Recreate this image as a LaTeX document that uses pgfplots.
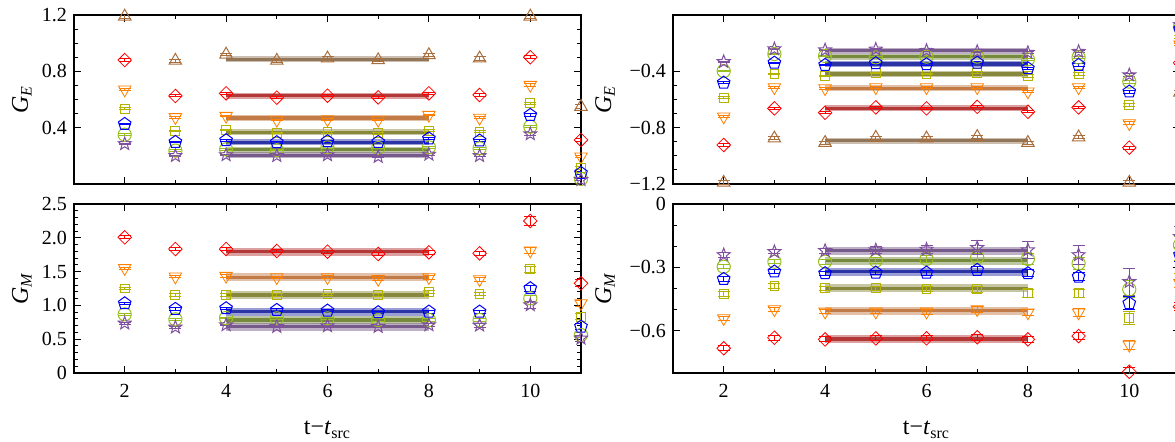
\documentclass[border=0pt]{standalone}
\usepackage{fontspec}
\setmainfont{Liberation Serif}
\usepackage{pgfplots}
\usepackage{pgfplotstable}
\pgfplotsset{compat=1.18}

\definecolor{cTri}{RGB}{170,110,60}
\definecolor{cDia}{RGB}{255,0,0}
\definecolor{cInv}{RGB}{255,128,0}
\definecolor{cSq}{RGB}{180,180,0}
\definecolor{cCi}{RGB}{150,190,30}
\definecolor{cPe}{RGB}{0,0,255}
\definecolor{cSt}{RGB}{128,80,160}
\definecolor{bTri}{RGB}{140,110,80}
\definecolor{bDia}{RGB}{175,45,45}
\definecolor{bInv}{RGB}{190,115,60}
\definecolor{bSq}{RGB}{128,128,50}
\definecolor{bCi}{RGB}{110,130,50}
\definecolor{bPe}{RGB}{30,40,160}
\definecolor{bSt}{RGB}{110,80,130}

% open five-pointed star
\pgfdeclareplotmark{ostar}{%
  \pgfpathmoveto{\pgfqpointpolar{90}{\pgfplotmarksize}}%
  \pgfpathlineto{\pgfqpointpolar{126}{0.42\pgfplotmarksize}}%
  \pgfpathlineto{\pgfqpointpolar{162}{\pgfplotmarksize}}%
  \pgfpathlineto{\pgfqpointpolar{198}{0.42\pgfplotmarksize}}%
  \pgfpathlineto{\pgfqpointpolar{234}{\pgfplotmarksize}}%
  \pgfpathlineto{\pgfqpointpolar{270}{0.42\pgfplotmarksize}}%
  \pgfpathlineto{\pgfqpointpolar{306}{\pgfplotmarksize}}%
  \pgfpathlineto{\pgfqpointpolar{342}{0.42\pgfplotmarksize}}%
  \pgfpathlineto{\pgfqpointpolar{18}{\pgfplotmarksize}}%
  \pgfpathlineto{\pgfqpointpolar{54}{0.42\pgfplotmarksize}}%
  \pgfpathclose\pgfusepathqstroke}

% G_E, positive
\pgfplotstableread{
t tri trie dia diae inv inve sq sqe ci cie pe pee st ste
2  1.19  0.012 0.88  0.008 0.67  0.008 0.535 0.007 0.35  0.006 0.426 0.006 0.285 0.005
3  0.876 0.010 0.625 0.007 0.474 0.006 0.376 0.005 0.237 0.005 0.298 0.005 0.200 0.004
4  0.92  0.010 0.644 0.007 0.483 0.006 0.383 0.005 0.246 0.005 0.310 0.005 0.206 0.004
5  0.876 0.010 0.613 0.007 0.455 0.006 0.364 0.005 0.240 0.005 0.296 0.005 0.200 0.004
6  0.892 0.010 0.627 0.007 0.459 0.006 0.367 0.005 0.260 0.005 0.303 0.005 0.206 0.004
7  0.88  0.010 0.615 0.007 0.455 0.006 0.360 0.005 0.255 0.005 0.298 0.005 0.194 0.004
8  0.916 0.010 0.644 0.007 0.490 0.006 0.378 0.006 0.260 0.006 0.323 0.006 0.210 0.005
9  0.892 0.012 0.632 0.008 0.470 0.007 0.371 0.007 0.253 0.006 0.308 0.006 0.200 0.006
10 1.19  0.015 0.90  0.010 0.703 0.009 0.573 0.008 0.407 0.008 0.490 0.008 0.355 0.008
11 0.549 0.015 0.313 0.010 0.194 0.009 0.114 0.008 0.036 0.008 0.078 0.008 0.030 0.008
}\tabTL

% G_M, positive
\pgfplotstableread{
t dia diae inv inve sq sqe ci cie pe pee st ste
2  2.007 0.020 1.55  0.018 1.25  0.016 0.868 0.014 1.03  0.015 0.735 0.012
3  1.834 0.020 1.425 0.018 1.154 0.016 0.794 0.014 0.947 0.015 0.676 0.012
4  1.834 0.020 1.435 0.018 1.154 0.016 0.814 0.014 0.957 0.015 0.710 0.012
5  1.805 0.020 1.415 0.018 1.154 0.016 0.809 0.014 0.932 0.015 0.685 0.013
6  1.795 0.022 1.415 0.020 1.164 0.018 0.809 0.016 0.922 0.016 0.695 0.015
7  1.760 0.025 1.390 0.022 1.154 0.020 0.784 0.018 0.898 0.018 0.685 0.018
8  1.785 0.028 1.415 0.025 1.203 0.022 0.784 0.020 0.907 0.020 0.710 0.020
9  1.770 0.030 1.386 0.028 1.169 0.025 0.784 0.025 0.907 0.025 0.705 0.025
10 2.249 0.060 1.810 0.040 1.534 0.040 1.105 0.040 1.253 0.045 1.006 0.045
11 1.327 0.050 1.031 0.040 0.833 0.040 0.562 0.040 0.685 0.040 0.513 0.040
}\tabBL

% G_E, negative
\pgfplotstableread{
t tri trie dia diae inv inve sq sqe ci cie pe pee st ste
2  -1.19  0.012 -0.923 0.008 -0.722 0.008 -0.587 0.007 -0.398 0.006 -0.481 0.006 -0.332 0.005
3  -0.876 0.010 -0.663 0.007 -0.514 0.006 -0.419 0.005 -0.277 0.005 -0.339 0.005 -0.241 0.004
4  -0.907 0.010 -0.694 0.007 -0.521 0.006 -0.433 0.005 -0.291 0.005 -0.355 0.005 -0.249 0.004
5  -0.871 0.010 -0.656 0.007 -0.514 0.006 -0.410 0.005 -0.301 0.005 -0.343 0.005 -0.244 0.004
6  -0.876 0.010 -0.663 0.007 -0.514 0.006 -0.419 0.005 -0.296 0.005 -0.350 0.005 -0.253 0.005
7  -0.865 0.010 -0.652 0.007 -0.514 0.006 -0.410 0.006 -0.296 0.006 -0.339 0.006 -0.260 0.006
8  -0.907 0.012 -0.687 0.008 -0.544 0.008 -0.433 0.008 -0.315 0.007 -0.379 0.007 -0.267 0.007
9  -0.868 0.012 -0.656 0.008 -0.514 0.008 -0.419 0.009 -0.301 0.008 -0.355 0.008 -0.260 0.008
10 -1.19  0.015 -0.942 0.010 -0.769 0.010 -0.639 0.010 -0.473 0.010 -0.544 0.010 -0.426 0.010
11 -0.55  0.015 -0.340 0.010 -0.210 0.010 -0.156 0.010 -0.085 0.010 -0.100 0.010 -0.070 0.010
}\tabTR

% G_M, negative
\pgfplotstableread{
t dia diae inv inve sq sqe ci cie pe pee st ste
2  -0.683 0.012 -0.541 0.010 -0.426 0.010 -0.297 0.010 -0.355 0.010 -0.241 0.010
3  -0.633 0.012 -0.499 0.010 -0.388 0.010 -0.273 0.010 -0.320 0.010 -0.226 0.010
4  -0.641 0.012 -0.510 0.010 -0.399 0.010 -0.273 0.012 -0.328 0.010 -0.221 0.012
5  -0.636 0.012 -0.510 0.010 -0.399 0.010 -0.268 0.014 -0.325 0.010 -0.218 0.015
6  -0.636 0.012 -0.510 0.012 -0.402 0.012 -0.260 0.016 -0.325 0.012 -0.215 0.020
7  -0.631 0.014 -0.499 0.014 -0.404 0.014 -0.252 0.020 -0.312 0.014 -0.207 0.033
8  -0.641 0.015 -0.514 0.016 -0.423 0.020 -0.260 0.025 -0.328 0.016 -0.218 0.040
9  -0.625 0.016 -0.514 0.018 -0.423 0.020 -0.281 0.030 -0.344 0.020 -0.241 0.045
10 -0.794 0.020 -0.667 0.020 -0.541 0.030 -0.404 0.040 -0.470 0.030 -0.368 0.065
11 -0.486 0.020 -0.375 0.020 -0.297 0.030 -0.194 0.040 -0.241 0.030 -0.155 0.050
}\tabBR

\pgfplotsset{
  panel/.style={scale only axis, width=253.5pt, height=84.5pt,
    xmin=1, xmax=11, xtick={2,4,6,8,10}, minor x tick num=1,
    tick align=inside, xtick pos=both, ytick pos=both,
    major tick length=3.5pt, minor tick length=1.8pt,
    every tick/.style={black, line width=0.5pt},
    axis line style={line width=0.6pt},
    tick label style={font=\fontsize{10}{12}\selectfont},
    label style={font=\fontsize{12}{14}\selectfont},
    xticklabel style={yshift=-2pt},
    clip=true},
  pts/.style={only marks, mark size=3.4pt, color=#1,
    mark options={line width=0.5pt, fill=none},
    error bars/y dir=both, error bars/y explicit,
    error bars/error bar style={line width=0.5pt},
    error bars/error mark options={rotate=90, mark size=3pt, line width=0.5pt}},
}
\newcommand{\fit}[3]{%
  \addplot[draw=#1, line width=#3, opacity=0.45, forget plot] coordinates {(4,#2) (8,#2)};
  \addplot[draw=#1, line width=1.6pt, opacity=0.9, forget plot] coordinates {(4,#2) (8,#2)};}

\begin{document}
\begin{tikzpicture}
\useasboundingbox (0,0) rectangle (587.5pt,220.5pt);

% top left
\begin{axis}[panel, at={(37pt,128.5pt)}, anchor=south west,
  ymin=0, ymax=1.2, ytick={0.4,0.8,1.2}, yticklabels={0.4,0.8,1.2},
  minor y tick num=3, xticklabels={},
  ylabel={\textit{G}\textsubscript{\textit{E}}},
  ylabel style={at={(axis description cs:-0.103,0.5)}, anchor=center}]
\fit{bTri}{0.886}{3pt}
\fit{bDia}{0.627}{3pt}
\fit{bInv}{0.469}{3pt}
\fit{bSq}{0.367}{3pt}
\fit{bPe}{0.296}{3pt}
\fit{bCi}{0.244}{3pt}
\fit{bSt}{0.204}{3pt}
\addplot[pts=cTri, mark=triangle, mark size=3.6pt] table[x=t, y=tri, y error=trie] {\tabTL};
\addplot[pts=cDia, mark=diamond, mark options={xscale=1.33}] table[x=t, y=dia, y error=diae] {\tabTL};
\addplot[pts=cInv, mark=triangle, mark size=3.6pt, mark options={rotate=180}] table[x=t, y=inv, y error=inve] {\tabTL};
\addplot[pts=cSq, mark=square, mark size=2.2pt] table[x=t, y=sq, y error=sqe] {\tabTL};
\addplot[pts=cCi, mark=o, mark size=3.3pt] table[x=t, y=ci, y error=cie] {\tabTL};
\addplot[pts=cPe, mark=pentagon, mark size=3.3pt] table[x=t, y=pe, y error=pee] {\tabTL};
\addplot[pts=cSt, mark=ostar, mark size=3.4pt] table[x=t, y=st, y error=ste] {\tabTL};
\end{axis}

% bottom left
\begin{axis}[panel, at={(37pt,34pt)}, anchor=south west,
  ymin=0, ymax=2.5, ytick={0,0.5,1,1.5,2,2.5},
  yticklabels={0,0.5,1.0,1.5,2.0,2.5}, minor y tick num=4,
  xticklabels={2,4,6,8,10},
  ylabel={\textit{G}\textsubscript{\textit{M}}},
  ylabel style={at={(axis description cs:-0.103,0.5)}, anchor=center},
  xlabel={t−\textit{t}\textsubscript{src}},
  xlabel style={at={(axis description cs:0.5,-0.337)}, anchor=center}]
\fit{bDia}{1.795}{4pt}
\fit{bInv}{1.415}{4pt}
\fit{bSq}{1.154}{4pt}
\fit{bPe}{0.907}{4pt}
\fit{bCi}{0.784}{4pt}
\fit{bSt}{0.685}{4pt}
\addplot[pts=cDia, mark=diamond, mark options={xscale=1.33}] table[x=t, y=dia, y error=diae] {\tabBL};
\addplot[pts=cInv, mark=triangle, mark size=3.6pt, mark options={rotate=180}] table[x=t, y=inv, y error=inve] {\tabBL};
\addplot[pts=cSq, mark=square, mark size=2.2pt] table[x=t, y=sq, y error=sqe] {\tabBL};
\addplot[pts=cCi, mark=o, mark size=3.3pt] table[x=t, y=ci, y error=cie] {\tabBL};
\addplot[pts=cPe, mark=pentagon, mark size=3.3pt] table[x=t, y=pe, y error=pee] {\tabBL};
\addplot[pts=cSt, mark=ostar, mark size=3.4pt] table[x=t, y=st, y error=ste] {\tabBL};
\end{axis}

% top right
\begin{axis}[panel, at={(336.5pt,128.5pt)}, anchor=south west,
  ymin=-1.2, ymax=0, ytick={-1.2,-0.8,-0.4}, yticklabels={−1.2,−0.8,−0.4},
  minor y tick num=3, xticklabels={},
  ylabel={\textit{G}\textsubscript{\textit{E}}},
  ylabel style={at={(axis description cs:-0.134,0.5)}, anchor=center}]
\fit{bTri}{-0.893}{3pt}
\fit{bDia}{-0.663}{3pt}
\fit{bInv}{-0.521}{3pt}
\fit{bSq}{-0.419}{3pt}
\fit{bPe}{-0.348}{3pt}
\fit{bCi}{-0.296}{3pt}
\fit{bSt}{-0.253}{3pt}
\addplot[pts=cTri, mark=triangle, mark size=3.6pt] table[x=t, y=tri, y error=trie] {\tabTR};
\addplot[pts=cDia, mark=diamond, mark options={xscale=1.33}] table[x=t, y=dia, y error=diae] {\tabTR};
\addplot[pts=cInv, mark=triangle, mark size=3.6pt, mark options={rotate=180}] table[x=t, y=inv, y error=inve] {\tabTR};
\addplot[pts=cSq, mark=square, mark size=2.2pt] table[x=t, y=sq, y error=sqe] {\tabTR};
\addplot[pts=cCi, mark=o, mark size=3.3pt] table[x=t, y=ci, y error=cie] {\tabTR};
\addplot[pts=cPe, mark=pentagon, mark size=3.3pt] table[x=t, y=pe, y error=pee] {\tabTR};
\addplot[pts=cSt, mark=ostar, mark size=3.4pt] table[x=t, y=st, y error=ste] {\tabTR};
\end{axis}

% bottom right
\begin{axis}[panel, at={(336.5pt,34pt)}, anchor=south west,
  ymin=-0.8, ymax=0, ytick={-0.6,-0.3,0}, yticklabels={−0.6,−0.3,0},
  minor y tick num=2, xticklabels={2,4,6,8,10},
  ylabel={\textit{G}\textsubscript{\textit{M}}},
  ylabel style={at={(axis description cs:-0.134,0.5)}, anchor=center},
  xlabel={t−\textit{t}\textsubscript{src}},
  xlabel style={at={(axis description cs:0.5,-0.337)}, anchor=center}]
\fit{bDia}{-0.639}{4pt}
\fit{bInv}{-0.505}{4pt}
\fit{bSq}{-0.399}{4pt}
\fit{bPe}{-0.320}{4pt}
\fit{bCi}{-0.268}{4pt}
\fit{bSt}{-0.221}{4pt}
\addplot[pts=cDia, mark=diamond, mark options={xscale=1.33}] table[x=t, y=dia, y error=diae] {\tabBR};
\addplot[pts=cInv, mark=triangle, mark size=3.6pt, mark options={rotate=180}] table[x=t, y=inv, y error=inve] {\tabBR};
\addplot[pts=cSq, mark=square, mark size=2.2pt] table[x=t, y=sq, y error=sqe] {\tabBR};
\addplot[pts=cCi, mark=o, mark size=3.3pt] table[x=t, y=ci, y error=cie] {\tabBR};
\addplot[pts=cPe, mark=pentagon, mark size=3.3pt] table[x=t, y=pe, y error=pee] {\tabBR};
\addplot[pts=cSt, mark=ostar, mark size=3.4pt] table[x=t, y=st, y error=ste] {\tabBR};
\end{axis}
\end{tikzpicture}
\end{document}
